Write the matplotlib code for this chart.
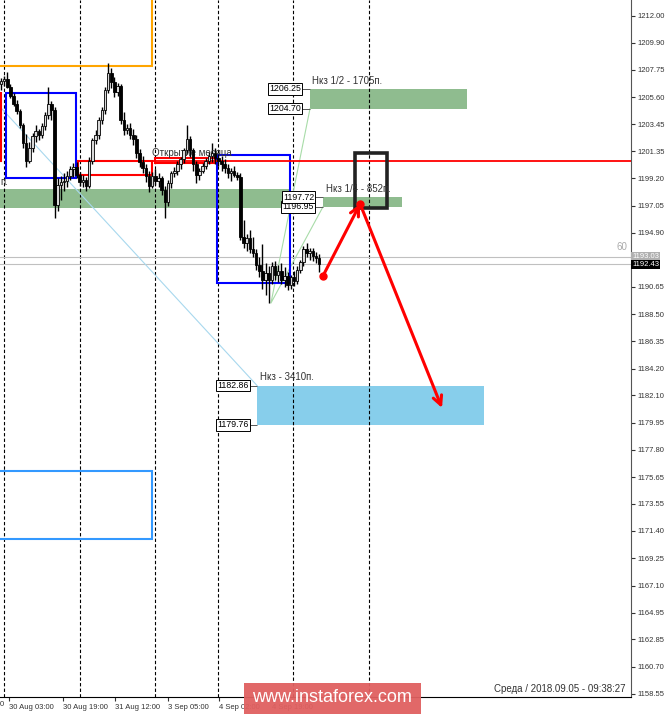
import numpy as np
import matplotlib
matplotlib.use("Agg")
import matplotlib.pyplot as plt
from matplotlib.patches import Rectangle

plt.rcParams['font.family'] = ['Liberation Sans', 'DejaVu Sans']

# H1 candles, oldest first
opens = [1206.60, 1206.85, 1207.05, 1206.40, 1205.70, 1205.10, 1204.50, 1203.40, 1202.00, 1200.60,
         1201.60, 1202.50, 1202.90, 1202.60, 1203.30, 1204.20, 1205.10, 1204.60, 1197.10, 1198.70,
         1198.90, 1199.00, 1199.40, 1199.90, 1200.10, 1199.50, 1198.90, 1199.10, 1198.60, 1200.60,
         1202.20, 1202.60, 1203.80, 1204.60, 1206.20, 1207.50, 1206.80, 1206.00, 1206.50, 1203.80,
         1203.00, 1203.20, 1202.60, 1202.30, 1201.20, 1200.50, 1200.00, 1199.40, 1198.60, 1199.40,
         1199.00, 1199.20, 1198.30, 1197.30, 1198.80, 1199.60, 1199.80, 1200.30, 1200.70, 1201.40,
         1202.30, 1201.40, 1200.30, 1199.50, 1199.80, 1200.20, 1200.60, 1201.00, 1201.20, 1200.80,
         1200.60, 1200.30, 1200.00, 1199.60, 1199.80, 1199.50, 1199.30, 1194.60, 1194.10, 1194.50,
         1193.60, 1193.30, 1192.40, 1191.90, 1191.20, 1191.70, 1191.20, 1192.30, 1191.60, 1191.90,
         1191.20, 1191.50, 1190.80, 1191.40, 1191.10, 1192.00, 1192.60, 1193.60, 1193.30, 1193.50,
         1193.10, 1192.90]
highs = [1207.10, 1207.30, 1207.55, 1206.60, 1205.90, 1205.40, 1204.70, 1203.60, 1202.70, 1202.10,
         1202.80, 1203.40, 1203.10, 1203.60, 1204.40, 1206.40, 1205.30, 1204.80, 1199.20, 1199.40,
         1199.60, 1199.80, 1200.20, 1200.40, 1200.50, 1199.70, 1199.50, 1199.30, 1200.90, 1202.40,
         1203.00, 1204.00, 1204.80, 1206.40, 1208.30, 1207.90, 1207.20, 1206.70, 1206.60, 1204.40,
         1203.50, 1203.60, 1203.10, 1202.60, 1201.50, 1201.00, 1200.30, 1199.80, 1199.70, 1199.90,
         1199.60, 1199.40, 1198.60, 1199.10, 1199.80, 1200.10, 1200.60, 1200.90, 1201.60, 1203.40,
         1202.50, 1201.60, 1200.60, 1200.00, 1200.40, 1200.80, 1201.30, 1202.00, 1201.60, 1201.10,
         1201.00, 1200.70, 1200.30, 1200.00, 1200.20, 1199.70, 1199.60, 1195.90, 1194.80, 1195.10,
         1194.60, 1193.60, 1193.00, 1194.00, 1192.50, 1192.30, 1192.60, 1192.70, 1192.40, 1192.50,
         1192.20, 1191.80, 1191.60, 1191.90, 1192.30, 1192.80, 1193.90, 1194.10, 1193.70, 1193.70,
         1193.40, 1193.20]
lows = [1206.20, 1206.50, 1206.30, 1205.50, 1204.90, 1204.30, 1203.20, 1201.60, 1200.10, 1200.40,
        1201.30, 1202.10, 1202.20, 1202.40, 1203.00, 1203.90, 1203.80, 1196.10, 1196.60, 1197.50,
        1198.20, 1198.50, 1199.10, 1199.30, 1199.20, 1198.60, 1198.50, 1198.20, 1198.40, 1200.30,
        1201.90, 1202.30, 1203.50, 1204.30, 1205.90, 1206.30, 1205.60, 1205.70, 1203.50, 1202.60,
        1202.70, 1202.30, 1201.80, 1200.80, 1200.10, 1199.60, 1198.90, 1198.10, 1198.40, 1198.70,
        1198.50, 1197.90, 1196.10, 1197.00, 1198.40, 1199.30, 1199.50, 1199.90, 1200.40, 1201.10,
        1200.90, 1199.80, 1198.80, 1199.10, 1199.60, 1199.90, 1200.30, 1200.50, 1200.30, 1200.20,
        1199.80, 1199.60, 1199.20, 1199.00, 1199.30, 1199.10, 1194.30, 1193.70, 1193.50, 1193.30,
        1193.00, 1192.00, 1191.40, 1190.50, 1190.00, 1189.40, 1190.90, 1191.20, 1191.00, 1190.90,
        1190.60, 1190.40, 1190.50, 1190.70, 1190.90, 1191.70, 1192.30, 1193.00, 1192.80, 1192.70,
        1192.50, 1191.80]
closes = [1206.85, 1207.05, 1206.40, 1205.70, 1205.10, 1204.50, 1203.40, 1202.00, 1200.60, 1201.60,
          1202.50, 1202.90, 1202.60, 1203.30, 1204.20, 1205.10, 1204.60, 1197.10, 1198.70, 1198.90,
          1199.00, 1199.40, 1199.90, 1200.10, 1199.50, 1198.90, 1199.10, 1198.60, 1200.60, 1202.20,
          1202.60, 1203.80, 1204.60, 1206.20, 1207.50, 1206.80, 1206.00, 1206.50, 1203.80, 1203.00,
          1203.20, 1202.60, 1202.30, 1201.20, 1200.50, 1200.00, 1199.40, 1198.60, 1199.40, 1199.00,
          1199.20, 1198.30, 1197.30, 1198.80, 1199.60, 1199.80, 1200.30, 1200.70, 1201.40, 1202.30,
          1201.40, 1200.30, 1199.50, 1199.80, 1200.20, 1200.60, 1201.00, 1201.20, 1200.80, 1200.60,
          1200.30, 1200.00, 1199.60, 1199.80, 1199.50, 1199.30, 1194.60, 1194.10, 1194.50, 1193.60,
          1193.30, 1192.40, 1191.90, 1191.20, 1191.70, 1191.20, 1192.30, 1191.60, 1191.90, 1191.20,
          1191.50, 1190.80, 1191.40, 1191.10, 1192.00, 1192.60, 1193.60, 1193.30, 1193.50, 1193.10,
          1192.90, 1192.43]

time_ticks = [2.6, 19.6, 36.3, 52.9, 69.3, 86.0]
time_labels = ['30 Aug 03:00', '30 Aug 19:00', '31 Aug 12:00', '3 Sep 05:00', '4 Sep 02:00', '4 Sep 19:00']
separators = [0.95, 25.1, 48.9, 68.9, 92.7, 116.8]

price_ticks = [1212.00, 1209.90, 1207.75, 1205.60, 1203.45, 1201.35, 1199.20, 1197.05, 1194.90,
               1190.65, 1188.50, 1186.35, 1184.20, 1182.10, 1179.95, 1177.80, 1175.65, 1173.55,
               1171.40, 1169.25, 1167.10, 1164.95, 1162.85, 1160.70, 1158.55]

bid, ask = 1192.43, 1193.03
month_open = 1200.59

# zones: (x0, x1, low, high)
green_main = (-5, 91.7, 1196.86, 1198.36)
target_half = (98.1, 147.9, 1204.70, 1206.25)
target_quarter = (102.2, 127.3, 1196.95, 1197.72)
target_full = (81.3, 153.3, 1179.76, 1182.86)
blue_boxes = [(1.6, 23.8, 1199.23, 1205.93), (68.6, 91.7, 1190.95, 1201.04)]
blue_box_far = (-5, 47.9, 1170.77, 1176.13)
orange_box = (-5, 47.9, 1208.06, 1220.0)
red_boxes = [(24.4, 47.9, 1199.47, 1200.59), (48.9, 67.9, 1200.41, 1200.81), (-10, -0.15, 1200.59, 1205.93)]
black_box = (112.4, 122.5, 1196.89, 1201.20)

# forecast path
path_x = [102.2, 114.0, 140.0]
path_y = [1191.50, 1197.18, 1181.10]

fig = plt.figure(figsize=(6.65, 7.16), dpi=100)
ax = fig.add_axes([0, 19 / 716, 631 / 665, 697 / 716])
ax.set_xlim(-0.32, 200.0)
ax.set_ylim(1158.31, 1213.26)


def box(z, **kw):
    ax.add_patch(Rectangle((z[0], z[2]), z[1] - z[0], z[3] - z[2], **kw))


box(green_main, facecolor='#8fbc8f', edgecolor='none', zorder=1)
box(target_half, facecolor='#8fbc8f', edgecolor='none', zorder=1)
box(target_quarter, facecolor='#8fbc8f', edgecolor='none', zorder=1)
box(target_full, facecolor='#87ceeb', edgecolor='none', zorder=1)

for s in separators:
    ax.axvline(s, color='black', lw=0.8, ls=(0, (3, 2)), zorder=2)

ax.axhline(ask, color='#c0c0c0', lw=0.8, zorder=2)
ax.axhline(bid, color='#c0c0c0', lw=0.8, zorder=2)

# guide lines
ax.plot([-5, 81.3], [1206.1, 1182.86], color='#a8d8ee', lw=0.8, zorder=2)
ax.plot([98.1, 85.7, 102.2], [1204.70, 1189.37, 1196.95], color='#a8dca8', lw=0.8, zorder=2)

box(orange_box, facecolor='none', edgecolor='#ffa500', lw=1.5, zorder=3)
box(blue_box_far, facecolor='none', edgecolor='#3399ff', lw=1.5, zorder=3)
for b in blue_boxes:
    box(b, facecolor='none', edgecolor='#0000ff', lw=1.5, zorder=3)
for b in red_boxes:
    box(b, facecolor='none', edgecolor='#ff0000', lw=1.5, zorder=3)
ax.hlines(month_open, 24.4, 300, color='#ff0000', lw=1.3, zorder=3)
box(black_box, facecolor='none', edgecolor='#222222', lw=2.6, zorder=6)

# candles
idx = np.arange(len(closes))
o = np.array(opens)
c = np.array(closes)
ax.vlines(idx, lows, highs, color='black', lw=1.0, zorder=4)
up = c >= o
ax.bar(idx[up], (c - o)[up], bottom=o[up], width=0.8, color='#d8d8d8', edgecolor='black', lw=0.6, zorder=5)
ax.bar(idx[~up], (o - c)[~up], bottom=c[~up], width=0.8, color='black', edgecolor='black', lw=0.6, zorder=5)

ax.text(47.9, 1201.2, 'Открытие месяца', fontsize=7, color='#333333', va='center', ha='left', zorder=4)
ax.text(-0.3, 1198.91, 'п.', fontsize=7, color='#333333', va='center', ha='left')

# level tags
def tag(xr, xz, price):
    ax.hlines(price, xr, xz, color='#555555', lw=0.7, zorder=6)
    ax.text(xr, price, '%.2f' % price, fontsize=6.3, ha='right', va='center', zorder=7,
            bbox=dict(boxstyle='square,pad=0.15', facecolor='white', edgecolor='black', lw=0.7))


for p in target_half[2:]:
    tag(95.2, 98.1, p)
for p in target_quarter[2:]:
    tag(99.4, 102.2, p)
for p in target_full[2:]:
    tag(78.7, 81.3, p)

ax.text(98.7, 1206.87, 'Нкз 1/2 - 1705п.', fontsize=7, color='#333333', va='center', ha='left')
ax.text(103.2, 1198.36, 'Нкз 1/4 - 852п.', fontsize=7, color='#333333', va='center', ha='left', zorder=7)
ax.text(82.2, 1183.54, 'Нкз - 3410п.', fontsize=7, color='#333333', va='center', ha='left')

# arrows
for i in range(len(path_x) - 1):
    ax.annotate('', xy=(path_x[i + 1], path_y[i + 1]), xytext=(path_x[i], path_y[i]),
                arrowprops=dict(arrowstyle='->', color='#ff0000', lw=2.2, mutation_scale=16,
                                shrinkA=0, shrinkB=0), zorder=8)
ax.plot(path_x[:2], path_y[:2], 'o', color='#ff0000', ms=5, zorder=9)

# axes look
for sp in ['top', 'left']:
    ax.spines[sp].set_visible(False)
ax.spines['right'].set_color('#555555')
ax.spines['bottom'].set_color('black')
ax.yaxis.tick_right()
ax.set_yticks(price_ticks, ['%.2f' % t for t in price_ticks])
ax.tick_params(axis='y', labelsize=5.5, length=3, pad=1.5, colors='#333333')
ax.set_xticks(time_ticks, time_labels)
ax.tick_params(axis='x', labelsize=5.5, length=3, pad=2, colors='#333333')
for lbl in ax.get_xticklabels():
    lbl.set_ha('left')

ax.text(1.002, ask, '%.2f' % ask, transform=ax.get_yaxis_transform(), fontsize=5.5, color='white',
        va='center', ha='left', bbox=dict(boxstyle='square,pad=0.15', facecolor='#b0b0b0', edgecolor='none'))
ax.text(1.002, bid, '%.2f' % bid, transform=ax.get_yaxis_transform(), fontsize=5.5, color='white',
        va='center', ha='left', bbox=dict(boxstyle='square,pad=0.15', facecolor='black', edgecolor='none'))
ax.text(0.995, 1193.8, '60', transform=ax.get_yaxis_transform(), fontsize=7, color='#aaaaaa', ha='right', va='center')

fig.text(626 / 665, 1 - 689 / 716, 'Среда / 2018.09.05 - 09:38:27', fontsize=7, color='#333333', ha='right', va='center')
fig.text(0.0, 1 - 705 / 716, '0', fontsize=5.5, color='#333333', ha='left', va='center')

fig.patches.append(Rectangle((244 / 665, 2 / 716), 177 / 665, 31 / 716, transform=fig.transFigure,
                             facecolor='#e06060', edgecolor='none', alpha=0.95, zorder=10))
fig.text(332 / 665, 1 - 698 / 716, 'www.instaforex.com', fontsize=13, color='white', ha='center', va='center', zorder=11)

fig.savefig('out.png', dpi=100)
